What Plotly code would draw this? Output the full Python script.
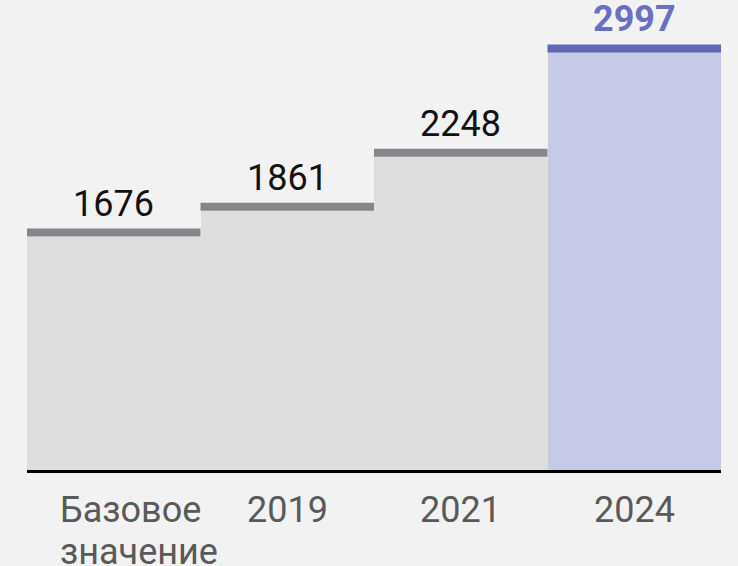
import plotly.graph_objects as go

categories = ["Базовое значение", "2019", "2021", "2024"]
label_lines = [["Базовое", "значение"], ["2019"], ["2021"], ["2024"]]
values = [1676, 1861, 2248, 2997]
value_labels = ["1676", "1861", "2248", "2997"]

bar_fill = ["#dedede", "#dedede", "#dedede", "#c6cae6"]
band_color = ["#858689", "#858689", "#858689", "#5f68b3"]
label_color = ["#111111", "#111111", "#111111", "#6970c2"]
label_bold = [False, False, False, True]

FONT = "Roboto"
FS = 36

fig = go.Figure()
fig.add_trace(go.Bar(
    x=list(range(len(categories))), y=values, width=1.0,
    marker=dict(color=bar_fill, line=dict(width=0)),
    hoverinfo="skip", showlegend=False,
))

shapes = []
annotations = []
for i, v in enumerate(values):
    shapes.append(dict(
        type="rect", xref="x", yref="y", x0=i - 0.5, x1=i + 0.5,
        ysizemode="pixel", yanchor=v, y0=0, y1=8,
        fillcolor=band_color[i], line=dict(width=0), layer="above",
    ))
    txt = value_labels[i]
    if label_bold[i]:
        txt = "<b>" + txt + "</b>"
    annotations.append(dict(
        x=i, y=v, xref="x", yref="y", text=txt, showarrow=False,
        yanchor="bottom", xanchor="center", yshift=10,
        font=dict(family=FONT, size=FS, color=label_color[i]),
    ))
    lines = label_lines[i]
    multi = len(lines) > 1
    for j, line in enumerate(lines):
        annotations.append(dict(
            x=i, y=0, xref="x", yref="paper", text=line, showarrow=False,
            yanchor="top", xanchor="left" if multi else "center",
            xshift=(57 - 113) if multi else 0,
            yshift=-17 - 42 * j,
            font=dict(family=FONT, size=FS, color="#595959"),
        ))

fig.update_layout(
    width=738, height=566,
    margin=dict(l=27, r=17, t=10, b=96),
    paper_bgcolor="#f2f2f2", plot_bgcolor="#f2f2f2",
    bargap=0,
    xaxis=dict(range=[-0.5, 3.5], showgrid=False, zeroline=False,
               showticklabels=False, ticks="", showline=True,
               linecolor="#000000", linewidth=3, fixedrange=True),
    yaxis=dict(range=[0, 3302], visible=False, fixedrange=True),
    shapes=shapes, annotations=annotations,
    font=dict(family=FONT),
)

fig.write_html(
    "out.html",
    config={"displayModeBar": False},
    post_script="document.body.style.margin='0';document.body.style.background='#f2f2f2';document.body.style.overflow='hidden';",
)
